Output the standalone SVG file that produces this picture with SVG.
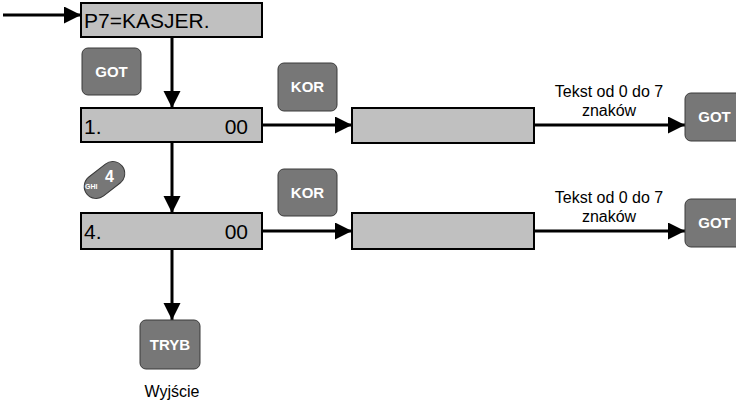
<svg xmlns="http://www.w3.org/2000/svg" width="736" height="408" viewBox="0 0 736 408">
<defs>
<marker id="ah" markerUnits="userSpaceOnUse" markerWidth="18" markerHeight="18" refX="17" refY="8.5" orient="auto">
<path d="M0,0 L17,8.5 L0,17 z" fill="#000"/>
</marker>
<style>
.box{fill:#c0c0c0;stroke:#000;stroke-width:2}
.key{fill:#777;stroke:#3a3a3a;stroke-width:1}
.kt{font-family:"Liberation Sans",Arial,sans-serif;font-weight:bold;font-size:15px;fill:#fff;text-anchor:middle}
.bt{font-family:"Liberation Sans",Arial,sans-serif;font-size:21px;fill:#000}
.lt{font-family:"Liberation Sans",Arial,sans-serif;font-size:16px;fill:#000;text-anchor:middle}
.ln{stroke:#000;stroke-width:3;fill:none;marker-end:url(#ah)}
</style>
</defs>
<rect width="736" height="408" fill="#fff"/>
<g id="connectors">
<line class="ln" x1="3" y1="15" x2="81" y2="15"/>
<line class="ln" x1="172" y1="37" x2="172" y2="108"/>
<line class="ln" x1="172" y1="142" x2="172" y2="213"/>
<line class="ln" x1="172" y1="249" x2="172" y2="320"/>
<line class="ln" x1="262" y1="125" x2="352" y2="125"/>
<line class="ln" x1="262" y1="231" x2="352" y2="231"/>
<line class="ln" x1="534" y1="125" x2="685" y2="125"/>
<line class="ln" x1="534" y1="231" x2="685" y2="231"/>
<text class="lt" x="609" y="97">Tekst od 0 do 7</text>
<text class="lt" x="609" y="116">znaków</text>
<text class="lt" x="609" y="203">Tekst od 0 do 7</text>
<text class="lt" x="609" y="222">znaków</text>
</g>
<g id="p7">
<rect class="box" x="81" y="3" width="181" height="34"/>
<text class="bt" x="84" y="28">P7=KASJER.</text>
</g>
<g id="got1">
<rect class="key" x="82" y="48" width="59" height="47" rx="6"/>
<text class="kt" x="111.5" y="77">GOT</text>
</g>
<g id="row1">
<rect class="box" x="81" y="108" width="181" height="34"/>
<text class="bt" x="84" y="134">1.</text>
<text class="bt" x="248" y="134" text-anchor="end">00</text>
</g>
<g id="kor1">
<rect class="key" x="278" y="63" width="59" height="48" rx="6"/>
<text class="kt" x="307.5" y="92">KOR</text>
</g>
<g id="edit1">
<rect class="box" x="352" y="108" width="182" height="35"/>
</g>
<g id="got2">
<rect class="key" x="685" y="93" width="59" height="48" rx="6"/>
<text class="kt" x="714.5" y="122">GOT</text>
</g>
<g id="key4">
<rect class="key" x="82" y="168" width="45" height="24" rx="12" transform="rotate(-38 104.5 180)"/>
<text x="105" y="182" style="font-family:'Liberation Sans',Arial,sans-serif;font-weight:bold;font-size:16px;fill:#fff">4</text>
<text x="85" y="189" style="font-family:'Liberation Sans',Arial,sans-serif;font-weight:bold;font-size:7px;fill:#fff">GHI</text>
</g>
<g id="row4">
<rect class="box" x="81" y="213" width="181" height="36"/>
<text class="bt" x="84" y="239">4.</text>
<text class="bt" x="248" y="239" text-anchor="end">00</text>
</g>
<g id="kor2">
<rect class="key" x="278" y="169" width="59" height="47" rx="6"/>
<text class="kt" x="307.5" y="198">KOR</text>
</g>
<g id="edit2">
<rect class="box" x="352" y="213" width="182" height="36"/>
</g>
<g id="got3">
<rect class="key" x="685" y="199" width="59" height="48" rx="6"/>
<text class="kt" x="714.5" y="228">GOT</text>
</g>
<g id="tryb">
<rect class="key" x="140" y="320" width="60" height="49" rx="6"/>
<text class="kt" x="170" y="350">TRYB</text>
<text class="lt" x="172" y="397">Wyjście</text>
</g>
</svg>
